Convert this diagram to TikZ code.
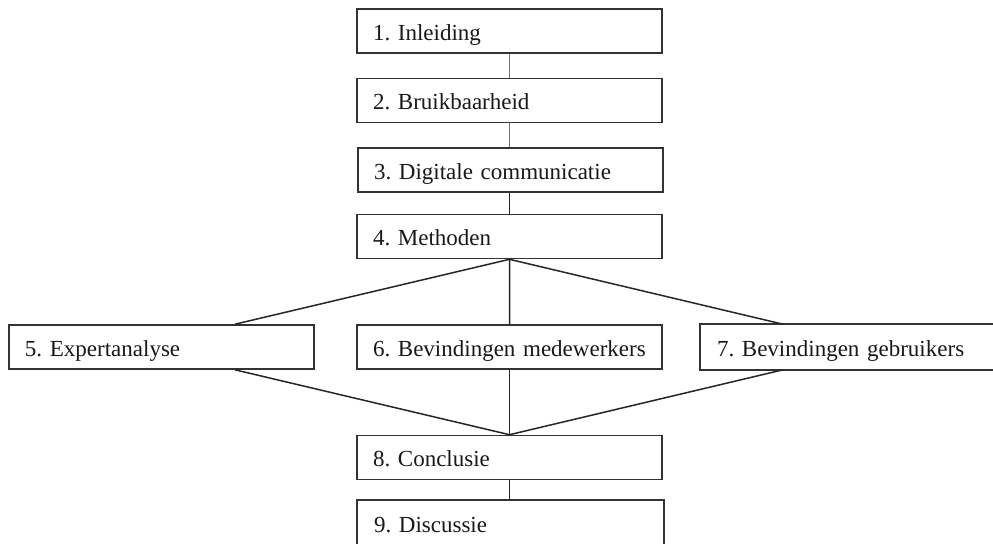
\documentclass[tikz,border=0pt]{standalone}
\usepackage{fontspec}
\setmainfont{Liberation Serif}
\usetikzlibrary{calc}
\begin{document}
\frenchspacing
\begin{tikzpicture}[x=0.5pt,y=-0.5pt,
  box/.style={draw=black!80,line width=0.8pt,fill=white,rectangle,
    inner xsep=8pt,inner ysep=0pt,minimum height=22pt,
    text width=136.5pt,align=left,text=black!90,
    text height=10pt,text depth=1pt,
    font=\fontsize{11.5}{13}\selectfont},
  openbox/.style={box,draw=none,fill=none},
  link/.style={draw=black!85,line width=0.75pt},
  glink/.style={draw=black!55,line width=0.9pt}]
\useasboundingbox[fill=white] (0,0) rectangle (993,543);
\node[box] (n1) at (509.5,31) {1. Inleiding};
\node[box] (n2) at (509.5,100.5) {2. Bruikbaarheid};
\node[box] (n3) at (510.5,170) {3. Digitale communicatie};
\node[box] (n4) at (509.5,236.5) {4. Methoden};
\node[box] (n5) at (161.5,347) {5. Expertanalyse};
\node[box] (n6) at (509.5,347) {6. Bevindingen medewerkers};
\node[openbox] (n7) at (853.5,347) {7. Bevindingen gebruikers};
\draw[draw=black!80,line width=0.8pt] ($(n7.north east)+(20,0)$) -- (n7.north west) -- (n7.south west) -- ($(n7.south east)+(20,0)$);
\node[openbox] (n9) at (510.5,523) {9. Discussie};
\draw[draw=black!80,line width=0.8pt] ($(n9.south west)+(0,20)$) -- (n9.north west) -- (n9.north east) -- ($(n9.south east)+(0,20)$);
\node[box] (n8) at (509.5,457.5) {8. Conclusie};
\draw[glink] (n1.south) -- (n1.south |- n2.north);
\draw[glink] (n2.south) -- (n2.south |- n3.north);
\draw[link] (n4.south |- n3.south) -- (n4.north);
\draw[link] ($(n5.north)+(73.5,0)$) -- (n4.south) -- (n6.north);
\draw[link] (n4.south) -- ($(n7.north)+(-70.5,0)$);
\draw[link] ($(n5.south)+(73.5,0)$) -- (n8.north) -- ($(n7.south)+(-70.5,0)$);
\draw[link] (n6.south) -- (n8.north);
\draw[link] (n8.south) -- (n8.south |- n9.north);
\end{tikzpicture}
\end{document}
